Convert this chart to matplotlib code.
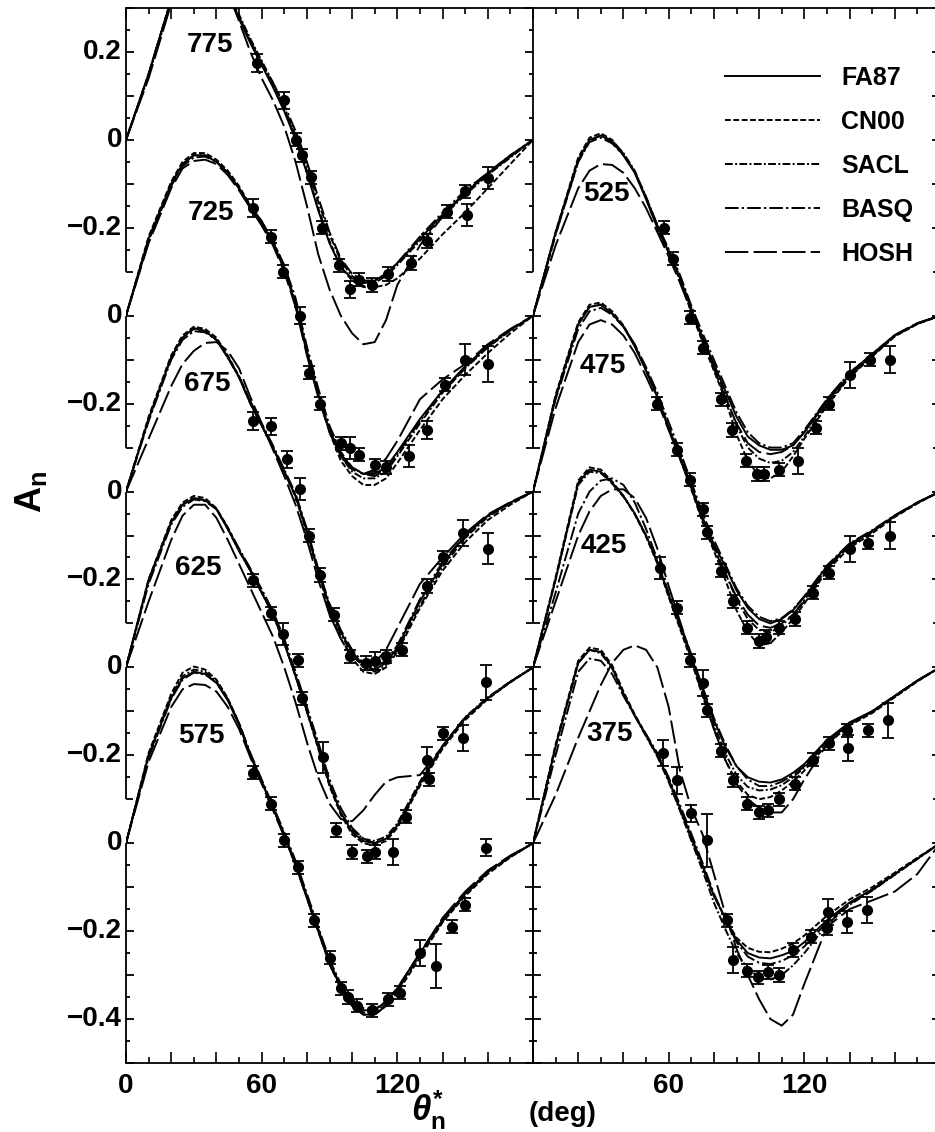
import numpy as np
import matplotlib.pyplot as plt
import matplotlib.transforms as mtransforms
from matplotlib.lines import Line2D
from matplotlib.ticker import FuncFormatter

plt.rcParams['font.family'] = ['Liberation Sans', 'DejaVu Sans']
plt.rcParams['font.weight'] = 'bold'
plt.rcParams['mathtext.fontset'] = 'custom'
plt.rcParams['mathtext.rm'] = 'Liberation Sans:bold'
plt.rcParams['mathtext.it'] = 'Liberation Sans:italic:bold'
plt.rcParams['mathtext.bf'] = 'Liberation Sans:bold'

# angle grid of the model curves (deg)
theta = [0, 10, 20, 25, 30, 35, 40, 45, 50, 55, 60, 65, 70, 75, 80, 85, 90, 95,
         100, 105, 110, 115, 120, 130, 140, 150, 160, 170, 180]

# model curves, A_n per energy (MeV)
fa87_775 = [0, .15, .32, .39, .42, .42, .385, .33, .275, .22, .17, .12, .065, .0, -.075, -.16, -.235, -.29, -.315, -.325, -.32, -.305, -.28, -.225, -.17, -.12, -.078, -.038, 0]
cn00_775 = [0, .15, .32, .39, .425, .425, .39, .335, .28, .225, .175, .125, .07, .005, -.07, -.155, -.23, -.29, -.32, -.335, -.335, -.33, -.315, -.27, -.215, -.165, -.11, -.055, 0]
sacl_775 = [0, .145, .315, .385, .42, .42, .39, .34, .285, .23, .18, .13, .075, .01, -.06, -.14, -.215, -.275, -.31, -.325, -.325, -.31, -.285, -.23, -.175, -.125, -.08, -.04, 0]
basq_775 = [0, .15, .32, .385, .415, .415, .385, .335, .28, .225, .175, .13, .08, .02, -.05, -.13, -.21, -.27, -.305, -.32, -.32, -.305, -.28, -.22, -.165, -.115, -.075, -.035, 0]
hosh_775 = [0, .14, .31, .37, .41, .42, .39, .34, .27, .2, .14, .09, .03, -.05, -.15, -.26, -.34, -.40, -.44, -.465, -.46, -.41, -.33, -.24, -.175, -.12, -.075, -.035, 0]

fa87_725 = [0, .175, .30, .345, .365, .365, .35, .325, .29, .245, .21, .165, .105, .025, -.085, -.18, -.26, -.315, -.345, -.36, -.36, -.345, -.31, -.235, -.17, -.115, -.068, -.032, 0]
cn00_725 = [0, .18, .305, .35, .37, .37, .355, .33, .295, .25, .215, .17, .11, .03, -.08, -.18, -.265, -.33, -.365, -.385, -.385, -.37, -.335, -.26, -.19, -.135, -.085, -.04, 0]
sacl_725 = [0, .175, .30, .345, .365, .365, .35, .325, .29, .25, .21, .165, .11, .03, -.08, -.175, -.26, -.32, -.355, -.37, -.37, -.355, -.32, -.245, -.175, -.12, -.072, -.034, 0]
basq_725 = [0, .17, .295, .34, .36, .362, .35, .325, .29, .25, .215, .17, .115, .04, -.07, -.165, -.25, -.31, -.345, -.36, -.365, -.35, -.315, -.24, -.17, -.118, -.07, -.033, 0]
hosh_725 = [0, .165, .29, .335, .352, .355, .345, .32, .285, .245, .205, .16, .1, .02, -.09, -.185, -.265, -.32, -.35, -.36, -.35, -.325, -.285, -.19, -.145, -.11, -.065, -.03, 0]

fa87_675 = [0, .165, .305, .35, .372, .365, .345, .305, .26, .2, .15, .1, .045, -.01, -.09, -.18, -.26, -.32, -.365, -.395, -.405, -.39, -.355, -.25, -.165, -.1, -.055, -.025, 0]
cn00_675 = [0, .17, .31, .355, .375, .37, .35, .31, .262, .205, .152, .1, .045, -.012, -.095, -.185, -.27, -.335, -.38, -.41, -.415, -.4, -.365, -.265, -.18, -.115, -.065, -.03, 0]
sacl_675 = [0, .165, .305, .35, .37, .365, .345, .305, .26, .2, .15, .1, .045, -.01, -.09, -.18, -.265, -.325, -.37, -.4, -.41, -.395, -.36, -.26, -.172, -.105, -.058, -.027, 0]
basq_675 = [0, .16, .3, .345, .365, .362, .345, .307, .262, .205, .155, .105, .05, -.005, -.085, -.175, -.255, -.315, -.36, -.39, -.4, -.385, -.35, -.245, -.16, -.1, -.055, -.025, 0]
hosh_675 = [0, .12, .24, .29, .32, .338, .34, .32, .28, .215, .155, .095, .035, -.03, -.11, -.2, -.28, -.335, -.375, -.395, -.39, -.36, -.31, -.21, -.15, -.095, -.052, -.024, 0]

fa87_625 = [0, .2, .33, .37, .385, .38, .36, .315, .265, .22, .17, .12, .055, -.02, -.1, -.18, -.265, -.33, -.375, -.395, -.4, -.39, -.36, -.265, -.18, -.115, -.07, -.033, 0]
cn00_625 = [0, .2, .335, .375, .39, .385, .362, .318, .268, .222, .172, .122, .057, -.02, -.1, -.185, -.27, -.335, -.38, -.4, -.405, -.395, -.365, -.27, -.185, -.12, -.072, -.034, 0]
sacl_625 = [0, .195, .33, .37, .385, .38, .36, .315, .265, .22, .17, .12, .055, -.02, -.1, -.18, -.265, -.33, -.37, -.39, -.395, -.385, -.355, -.26, -.178, -.113, -.068, -.032, 0]
basq_625 = [0, .19, .325, .365, .382, .378, .36, .318, .27, .225, .178, .128, .065, -.01, -.09, -.17, -.255, -.32, -.365, -.39, -.4, -.39, -.36, -.265, -.18, -.115, -.07, -.033, 0]
hosh_625 = [0, .15, .29, .345, .37, .37, .34, .29, .235, .18, .125, .07, .0, -.08, -.17, -.25, -.31, -.345, -.35, -.325, -.29, -.26, -.25, -.245, -.18, -.115, -.07, -.033, 0]

fa87_575 = [0, .2, .33, .375, .39, .385, .365, .325, .27, .2, .14, .08, .02, -.045, -.12, -.195, -.27, -.325, -.36, -.38, -.38, -.36, -.33, -.25, -.175, -.115, -.065, -.03, 0]
cn00_575 = [0, .205, .34, .388, .402, .395, .372, .33, .273, .202, .142, .08, .018, -.05, -.125, -.2, -.275, -.33, -.37, -.39, -.39, -.37, -.34, -.26, -.18, -.12, -.07, -.032, 0]
sacl_575 = [0, .2, .335, .38, .395, .39, .368, .328, .272, .2, .14, .08, .02, -.047, -.122, -.197, -.272, -.328, -.365, -.385, -.385, -.365, -.335, -.255, -.178, -.117, -.067, -.031, 0]
basq_575 = [0, .195, .328, .372, .388, .384, .365, .327, .273, .205, .145, .085, .025, -.04, -.115, -.19, -.265, -.32, -.355, -.375, -.378, -.36, -.33, -.25, -.175, -.115, -.065, -.03, 0]
hosh_575 = [0, .185, .31, .35, .362, .36, .345, .31, .26, .195, .135, .075, .015, -.05, -.125, -.2, -.275, -.33, -.37, -.39, -.39, -.37, -.335, -.25, -.17, -.11, -.062, -.028, 0]

fa87_525 = [0, .19, .355, .4, .41, .395, .365, .325, .265, .2, .145, .085, .015, -.05, -.11, -.17, -.23, -.275, -.295, -.305, -.305, -.295, -.265, -.195, -.135, -.09, -.045, -.018, 0]
cn00_525 = [0, .19, .36, .405, .415, .4, .368, .327, .267, .2, .143, .08, .008, -.06, -.125, -.19, -.27, -.33, -.365, -.37, -.355, -.32, -.28, -.205, -.14, -.093, -.047, -.019, 0]
sacl_525 = [0, .185, .35, .398, .41, .398, .37, .33, .27, .205, .148, .088, .018, -.05, -.115, -.18, -.25, -.3, -.325, -.335, -.33, -.31, -.275, -.2, -.138, -.092, -.046, -.018, 0]
basq_525 = [0, .185, .35, .395, .405, .392, .365, .327, .27, .207, .152, .093, .023, -.04, -.1, -.16, -.22, -.265, -.29, -.3, -.3, -.29, -.26, -.19, -.13, -.087, -.044, -.017, 0]
hosh_525 = [0, .16, .29, .33, .345, .343, .325, .29, .245, .19, .135, .075, .01, -.055, -.12, -.185, -.245, -.29, -.31, -.315, -.31, -.295, -.265, -.19, -.13, -.087, -.044, -.017, 0]

fa87_475 = [0, .215, .38, .42, .425, .405, .375, .33, .275, .215, .145, .08, .012, -.06, -.12, -.17, -.225, -.265, -.29, -.3, -.29, -.27, -.24, -.17, -.12, -.09, -.055, -.025, 0]
cn00_475 = [0, .22, .385, .425, .43, .41, .378, .332, .276, .214, .142, .075, .005, -.07, -.135, -.2, -.27, -.32, -.35, -.345, -.32, -.29, -.255, -.18, -.128, -.095, -.058, -.027, 0]
sacl_475 = [0, .215, .38, .42, .425, .405, .376, .332, .278, .218, .148, .082, .013, -.06, -.125, -.185, -.245, -.29, -.315, -.32, -.305, -.28, -.247, -.175, -.124, -.092, -.056, -.026, 0]
basq_475 = [0, .21, .37, .41, .418, .402, .375, .335, .283, .225, .158, .092, .022, -.05, -.11, -.165, -.22, -.26, -.285, -.295, -.288, -.268, -.238, -.168, -.118, -.088, -.054, -.025, 0]
hosh_475 = [0, .19, .34, .38, .39, .38, .355, .315, .262, .205, .14, .075, .008, -.065, -.13, -.185, -.24, -.28, -.305, -.31, -.3, -.28, -.25, -.175, -.122, -.09, -.055, -.025, 0]

fa87_425 = [0, .2, .42, .45, .445, .42, .39, .35, .3, .24, .165, .095, .025, -.05, -.12, -.18, -.225, -.25, -.26, -.262, -.255, -.24, -.22, -.165, -.125, -.1, -.065, -.03, 0]
cn00_425 = [0, .205, .425, .455, .45, .423, .39, .348, .297, .236, .16, .088, .015, -.065, -.14, -.21, -.26, -.29, -.3, -.295, -.28, -.26, -.235, -.175, -.132, -.104, -.068, -.032, 0]
sacl_425 = [0, .2, .415, .445, .442, .418, .388, .35, .3, .24, .165, .093, .02, -.058, -.13, -.195, -.245, -.272, -.28, -.278, -.268, -.25, -.228, -.17, -.128, -.102, -.066, -.031, 0]
basq_425 = [0, .17, .35, .4, .425, .43, .415, .375, .315, .245, .17, .1, .03, -.045, -.115, -.175, -.225, -.255, -.27, -.27, -.26, -.245, -.225, -.168, -.127, -.1, -.065, -.03, 0]
hosh_425 = [0, .15, .3, .355, .39, .405, .405, .385, .34, .27, .185, .105, .025, -.06, -.14, -.21, -.265, -.3, -.32, -.33, -.33, -.3, -.255, -.175, -.13, -.1, -.065, -.03, 0]

fa87_375 = [0, .22, .41, .44, .435, .4, .34, .29, .245, .2, .145, .08, .015, -.05, -.12, -.17, -.22, -.25, -.26, -.262, -.255, -.245, -.225, -.175, -.135, -.105, -.07, -.035, 0]
cn00_375 = [0, .225, .415, .445, .44, .405, .345, .293, .247, .2, .143, .077, .01, -.055, -.12, -.17, -.215, -.238, -.247, -.248, -.24, -.228, -.21, -.165, -.128, -.1, -.067, -.033, 0]
sacl_375 = [0, .22, .41, .44, .432, .398, .34, .29, .243, .197, .14, .074, .006, -.062, -.135, -.195, -.25, -.285, -.305, -.31, -.3, -.278, -.25, -.185, -.14, -.108, -.072, -.036, 0]
basq_375 = [0, .2, .39, .42, .415, .385, .335, .29, .248, .205, .15, .087, .022, -.045, -.115, -.17, -.225, -.258, -.272, -.275, -.268, -.255, -.235, -.18, -.138, -.107, -.071, -.035, 0]
hosh_375 = [0, .11, .24, .3, .36, .41, .44, .45, .44, .4, .31, .165, .08, .02, -.07, -.16, -.24, -.3, -.355, -.4, -.415, -.39, -.32, -.19, -.15, -.13, -.11, -.07, 0]

# measured points: angle, A_n, error
d775_th = [58, 70, 75, 78, 82, 86.5, 94, 99, 103, 109, 116, 126, 133, 142, 150, 151, 160]
d775_a = [0.175, 0.09, 0.0, -0.035, -0.085, -0.2, -0.285, -0.34, -0.318, -0.33, -0.305, -0.28, -0.23, -0.163, -0.117, -0.17, -0.087]
d775_e = [0.02, 0.02, 0.015, 0.015, 0.015, 0.015, 0.015, 0.02, 0.015, 0.015, 0.015, 0.015, 0.015, 0.015, 0.015, 0.025, 0.025]

d725_th = [56, 64, 69.5, 77, 81, 86, 95, 99, 103, 110, 115, 125, 133, 141, 150, 160]
d725_a = [0.245, 0.18, 0.1, 0.0, -0.13, -0.2, -0.29, -0.3, -0.316, -0.34, -0.345, -0.32, -0.26, -0.157, -0.1, -0.11]
d725_e = [0.02, 0.015, 0.015, 0.02, 0.015, 0.015, 0.015, 0.025, 0.015, 0.015, 0.015, 0.025, 0.02, 0.015, 0.035, 0.04]

d675_th = [56, 64, 71, 77, 81, 86, 92, 99, 106, 110, 115, 122, 133, 140, 149, 160]
d675_a = [0.16, 0.148, 0.073, 0.005, -0.1, -0.19, -0.28, -0.375, -0.39, -0.385, -0.375, -0.36, -0.215, -0.15, -0.094, -0.13]
d675_e = [0.02, 0.02, 0.02, 0.025, 0.015, 0.015, 0.015, 0.015, 0.015, 0.02, 0.015, 0.015, 0.015, 0.015, 0.03, 0.035]

d625_th = [56, 64, 69.5, 76, 78, 87, 93, 100, 106.5, 110, 118, 124, 133, 134, 140, 149, 159]
d625_a = [0.198, 0.123, 0.077, 0.016, -0.07, -0.205, -0.37, -0.42, -0.43, -0.42, -0.42, -0.34, -0.21, -0.255, -0.15, -0.16, -0.034]
d625_e = [0.015, 0.015, 0.025, 0.015, 0.015, 0.035, 0.015, 0.015, 0.015, 0.015, 0.03, 0.015, 0.03, 0.015, 0.015, 0.03, 0.04]

d575_th = [56, 64, 70, 76, 83, 90, 95, 98, 102, 109, 116, 121, 130, 137, 144, 150, 159]
d575_a = [0.16, 0.09, 0.007, -0.055, -0.175, -0.26, -0.33, -0.35, -0.37, -0.38, -0.355, -0.34, -0.25, -0.28, -0.19, -0.14, -0.01]
d575_e = [0.015, 0.015, 0.015, 0.015, 0.015, 0.015, 0.015, 0.015, 0.015, 0.015, 0.015, 0.015, 0.03, 0.05, 0.015, 0.015, 0.02]

d525_th = [58, 62, 69.5, 75, 83, 88, 94, 99, 102, 109, 117, 125, 131, 140, 149, 158]
d525_a = [0.2, 0.13, -0.005, -0.073, -0.19, -0.26, -0.33, -0.36, -0.36, -0.35, -0.33, -0.255, -0.2, -0.135, -0.1, -0.1]
d525_e = [0.015, 0.015, 0.015, 0.015, 0.015, 0.015, 0.015, 0.015, 0.015, 0.015, 0.03, 0.015, 0.015, 0.03, 0.015, 0.03]

d475_th = [55, 63.5, 69.5, 75, 77, 83, 88.5, 94.5, 100, 103, 109, 116, 124, 131, 140, 148, 158]
d475_a = [0.2, 0.095, 0.027, -0.04, -0.093, -0.18, -0.25, -0.31, -0.34, -0.33, -0.31, -0.29, -0.23, -0.185, -0.13, -0.116, -0.1]
d475_e = [0.015, 0.015, 0.015, 0.015, 0.015, 0.015, 0.015, 0.015, 0.015, 0.015, 0.015, 0.015, 0.015, 0.015, 0.03, 0.015, 0.03]

d425_th = [56, 63.5, 69.5, 75, 77, 83, 88.5, 94.5, 100, 104, 109, 116, 124, 131, 139, 139.5, 148, 157]
d425_a = [0.227, 0.136, 0.016, -0.036, -0.098, -0.19, -0.257, -0.31, -0.33, -0.325, -0.3, -0.265, -0.21, -0.173, -0.143, -0.184, -0.143, -0.12]
d425_e = [0.025, 0.015, 0.015, 0.03, 0.015, 0.015, 0.015, 0.015, 0.015, 0.015, 0.015, 0.015, 0.015, 0.015, 0.015, 0.03, 0.015, 0.04]

d375_th = [57.5, 63.5, 70, 77, 86, 88.5, 94.5, 99.5, 104, 109, 115, 123, 130, 130.5, 139, 147.5]
d375_a = [0.205, 0.143, 0.068, 0.007, -0.175, -0.266, -0.29, -0.305, -0.293, -0.3, -0.243, -0.213, -0.193, -0.157, -0.18, -0.152]
d375_e = [0.03, 0.03, 0.02, 0.06, 0.015, 0.03, 0.015, 0.015, 0.015, 0.015, 0.015, 0.015, 0.015, 0.03, 0.025, 0.03]

models = ['FA87', 'CN00', 'SACL', 'BASQ', 'HOSH']
styles = ['-', (0, (3, 1.3)), (0, (4, 1.2, 1, 1.2)), (0, (7, 1.6, 1.2, 1.6)), (0, (12, 2.7))]

left_energies = [775, 725, 675, 625, 575]
right_energies = [525, 475, 425, 375]
level = {775: 0, 725: 1, 675: 2, 625: 3, 575: 4, 525: 1, 475: 2, 425: 3, 375: 4}
curves = {
    775: [fa87_775, cn00_775, sacl_775, basq_775, hosh_775],
    725: [fa87_725, cn00_725, sacl_725, basq_725, hosh_725],
    675: [fa87_675, cn00_675, sacl_675, basq_675, hosh_675],
    625: [fa87_625, cn00_625, sacl_625, basq_625, hosh_625],
    575: [fa87_575, cn00_575, sacl_575, basq_575, hosh_575],
    525: [fa87_525, cn00_525, sacl_525, basq_525, hosh_525],
    475: [fa87_475, cn00_475, sacl_475, basq_475, hosh_475],
    425: [fa87_425, cn00_425, sacl_425, basq_425, hosh_425],
    375: [fa87_375, cn00_375, sacl_375, basq_375, hosh_375],
}
points = {
    775: (d775_th, d775_a, d775_e), 725: (d725_th, d725_a, d725_e),
    675: (d675_th, d675_a, d675_e), 625: (d625_th, d625_a, d625_e),
    575: (d575_th, d575_a, d575_e), 525: (d525_th, d525_a, d525_e),
    475: (d475_th, d475_a, d475_e), 425: (d425_th, d425_a, d425_e),
    375: (d375_th, d375_a, d375_e),
}
# where the energy labels sit (deg, local A_n)
label_pos = {775: (37, 0.216), 725: (37.5, 0.234), 675: (36, 0.245), 625: (32, 0.226),
             575: (33.5, 0.244), 525: (32.5, 0.277), 475: (31, 0.286), 425: (31.5, 0.276),
             375: (34, 0.248)}

SHIFT = -0.4
FS = 20

fig = plt.figure(figsize=(9.35, 11.32), dpi=100)
ax_l = fig.add_axes([126 / 935, 69 / 1132, 407 / 935, 1055 / 1132])
ax_r = fig.add_axes([533 / 935, 69 / 1132, 407 / 935, 1055 / 1132])
ax_r.patch.set_visible(False)


def side_axis(ax, x, sign, levels, labels=False):
    tr = mtransforms.blended_transform_factory(ax.transAxes, ax.transData)
    kw = dict(color='k', lw=1.3, transform=tr, clip_on=False, solid_capstyle='butt')
    for k in levels:
        off = SHIFT * k
        top = 0.3 if k == 0 else 0.0
        bot = -0.5 if k == 4 else -0.3
        ax.plot([x, x], [off + top, off + bot], **kw)
        n = int(round((top - bot) / 0.05))
        for i in range(n + 1):
            v = round(top - 0.05 * i, 2)
            L = 0.02 if round(v * 100) % 10 == 0 else 0.011
            if i == n and k != 4:
                L = 0.018
            ax.plot([x, x + sign * L], [off + v, off + v], **kw)
        if labels:
            vals = [0, -0.2]
            if k == 0:
                vals = [0.2] + vals
            if k == 4:
                vals = vals + [-0.4]
            for v in vals:
                s = '0' if v == 0 else ('%.1f' % v).replace('-', '\u2212')
                ax.text(-0.01, off + v, s, transform=tr, ha='right', va='center',
                        fontsize=FS, fontweight='bold')


for ax, energies in ((ax_l, left_energies), (ax_r, right_energies)):
    ax.set_xlim(0, 180)
    ax.set_ylim(-1.6 - 0.5, 0.3)
    for sp in ('left', 'right'):
        ax.spines[sp].set_visible(False)
    for sp in ('top', 'bottom'):
        ax.spines[sp].set_linewidth(1.3)
    ax.set_yticks([])
    ax.set_xticks(np.arange(0, 181, 20))
    ax.set_xticks(np.arange(0, 181, 10), minor=True)
    ax.tick_params(axis='x', which='both', direction='in', top=True, width=1.2,
                   labelsize=FS, pad=7)
    ax.tick_params(axis='x', which='major', length=8)
    ax.tick_params(axis='x', which='minor', length=4)

    for E in energies:
        off = SHIFT * level[E]
        for vals, ls in zip(curves[E], styles):
            ax.plot(theta, np.array(vals) + off, color='k', lw=1.4, ls=ls)
        th, a, e = points[E]
        ax.errorbar(th, np.array(a) + off, yerr=e, fmt='o', color='k', ms=7,
                    capsize=4.5, elinewidth=1.3, capthick=1.3)
        lx, ly = label_pos[E]
        ax.text(lx, ly + off, str(E), ha='center', va='center', fontsize=FS,
                fontweight='bold')

ax_l.xaxis.set_major_formatter(FuncFormatter(lambda v, p: '%d' % v if v in (0, 60, 120) else ''))
ax_r.xaxis.set_major_formatter(FuncFormatter(lambda v, p: '%d' % v if v in (60, 120) else ''))

side_axis(ax_l, 0, 1, range(5), labels=True)
side_axis(ax_l, 1, -1, range(5))
side_axis(ax_r, 0, 1, range(1, 5))
side_axis(ax_r, 1, -1, range(5))

handles = [Line2D([], [], color='k', lw=1.4, ls=ls) for ls in styles]
ax_r.legend(handles, models, loc='upper left', bbox_to_anchor=(0.472, 0.945),
            frameon=False, handlelength=3.8, handletextpad=0.85, labelspacing=0.8,
            fontsize=18, borderpad=0, borderaxespad=0)

fig.text(31 / 935, 1 - 492 / 1132, r'A$_{\rm n}$', rotation=90, ha='center', va='center',
         fontsize=26, fontweight='bold')
fig.text(428 / 935, 1 - 1110 / 1132, r'$\theta^{*}_{\rm n}$', ha='center',
         va='center', fontsize=25, fontweight='bold')
fig.text(563 / 935, 1 - 1114 / 1132, '(deg)', ha='center', va='center',
         fontsize=20, fontweight='bold')

fig.savefig('out.png', dpi=100)
